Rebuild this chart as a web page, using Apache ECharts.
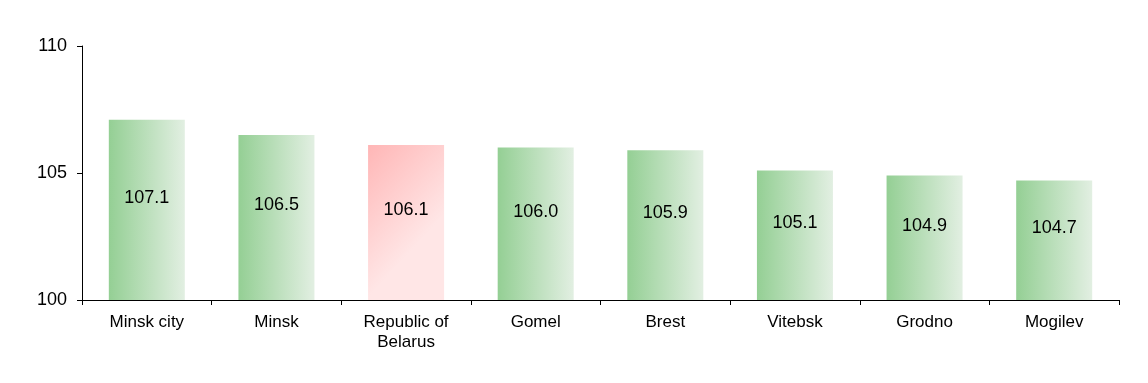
<!DOCTYPE html>
<html><head><meta charset="utf-8">
<script src="https://cdn.jsdelivr.net/npm/echarts@6/dist/echarts.min.js"></script>
<style>html,body{margin:0;padding:0;background:#fff}#c{width:1148px;height:383px}</style>
</head><body><div id="c"></div>
<script>
var categories = ['Minsk city', 'Minsk', 'Republic of\nBelarus', 'Gomel', 'Brest', 'Vitebsk', 'Grodno', 'Mogilev'];
var values = [107.1, 106.5, 106.1, 106.0, 105.9, 105.1, 104.9, 104.7];
var highlightIndex = 2;

var green = new echarts.graphic.LinearGradient(0, 0, 1, 0, [{offset: 0, color: '#94cf94'}, {offset: 1, color: '#e2efe2'}]);
var red = new echarts.graphic.LinearGradient(0, 0, 1, 0.45, [{offset: 0, color: '#ffb6b6'}, {offset: 1, color: '#ffe6e6'}]);

var chart = echarts.init(document.getElementById('c'));
chart.setOption({
  animation: false,
  grid: {left: 82, right: 29, top: 46, bottom: 83},
  xAxis: {
    type: 'category', data: categories,
    axisLine: {lineStyle: {color: '#000', width: 1}},
    axisTick: {show: true, length: 5, lineStyle: {color: '#000'}},
    axisLabel: {color: '#000', fontFamily: 'Liberation Sans', fontSize: 17, margin: 12, lineHeight: 20, interval: 0}
  },
  yAxis: {
    type: 'value', min: 100, max: 110, interval: 5,
    axisLine: {show: true, lineStyle: {color: '#000', width: 1}},
    axisTick: {show: true, length: 5, lineStyle: {color: '#000'}},
    splitLine: {show: false},
    axisLabel: {color: '#000', fontFamily: 'Liberation Sans', fontSize: 18, margin: 15}
  },
  series: [{
    type: 'bar', barWidth: 76,
    data: values.map(function (v, i) {
      return {value: v, itemStyle: {color: i === highlightIndex ? red : green}};
    }),
    label: {
      show: true, position: 'inside', offset: [0, -12],
      formatter: function (p) { return p.value.toFixed(1); },
      color: '#000', fontFamily: 'Liberation Sans', fontSize: 18
    }
  }]
});
</script></body></html>
